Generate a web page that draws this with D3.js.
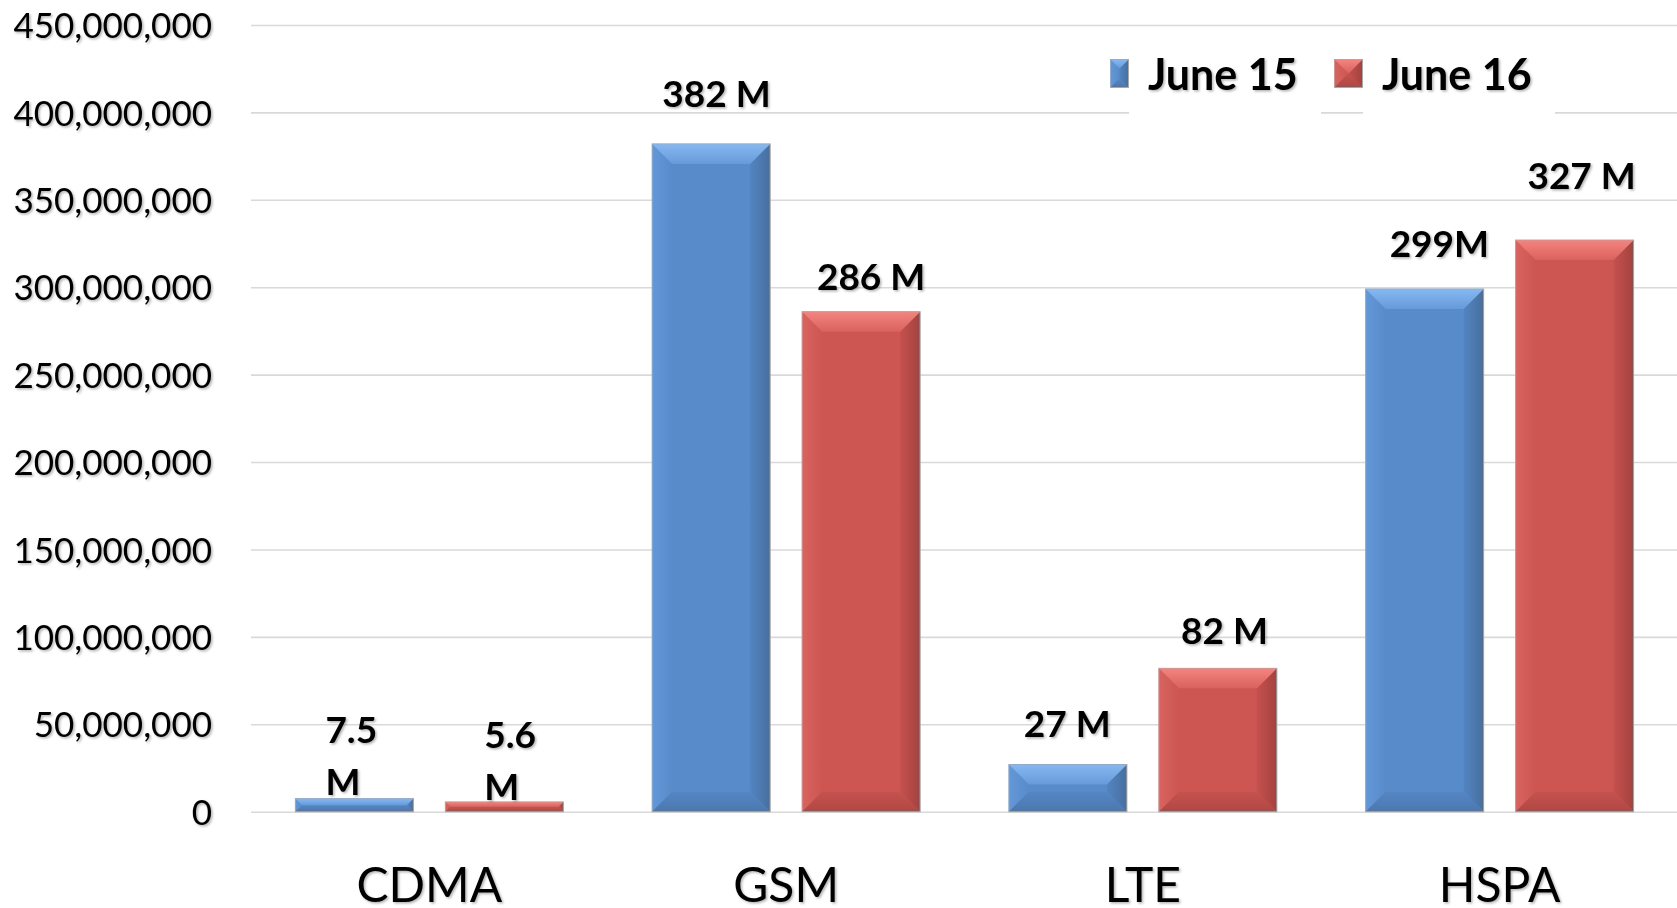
<!DOCTYPE html>
<html>
<head>
<meta charset="utf-8">
<script src="https://cdn.jsdelivr.net/npm/d3@7"></script>
<style>
  html, body { margin: 0; padding: 0; background: #fff; }
  svg { display: block; }
  text { font-family: Lato, "Open Sans", sans-serif; fill: #000; }
</style>
</head>
<body>
<div id="chart"></div>
<script>
// data
var categories = ["CDMA", "GSM", "LTE", "HSPA"];
var series = ["June 15", "June 16"];
var june15 = [7.5e6, 382e6, 27e6, 299e6];
var june16 = [5.6e6, 286e6, 82e6, 327e6];
var labels15 = ["7.5\nM", "382 M", "27 M", "299M"];
var labels16 = ["5.6\nM", "286 M", "82 M", "327 M"];
var yTicks = [0, 50e6, 100e6, 150e6, 200e6, 250e6, 300e6, 350e6, 400e6, 450e6];

// the labels were placed by hand in the original, so nudge them (dx, dy from bar centre / top)
var nudge15 = [[-29, -3.6], [5.3, -36.6], [-0.7, -27.8], [14.7, -32.3]];
var nudge16 = [[-20, -2], [10, -21.8], [6.6, -24.4], [7, -50.8]];

var W = 1677, H = 908;
var plotLeft = 251, plotRight = 1678, plotTop = 25, plotBottom = 811.7;

var svg = d3.select("#chart").append("svg")
  .attr("width", W)
  .attr("height", H);

var defs = svg.append("defs");
var shadow = defs.append("filter").attr("id", "shadow")
  .attr("x", "-10%").attr("y", "-10%").attr("width", "130%").attr("height", "140%");
shadow.append("feDropShadow")
  .attr("dx", 1.5).attr("dy", 1.5).attr("stdDeviation", 1)
  .attr("flood-color", "#000").attr("flood-opacity", 0.3);

var palette = {
  "June 15": {body: "#588bca", top: ["#86b8f2", "#679ad9"], left: ["#6398d8", "#588bca"],
              right: ["#5384c2", "#466f9f"], bottom: ["#5586c4", "#4a77b0"]},
  "June 16": {body: "#cd5652", top: ["#f4847f", "#d9625e"], left: ["#d8635f", "#cd5652"],
              right: ["#c5514d", "#a3423f"], bottom: ["#c6524e", "#b04744"]}
};
function grad(id, c, x2, y2) {
  var g = defs.append("linearGradient").attr("id", id)
    .attr("x1", 0).attr("y1", 0).attr("x2", x2).attr("y2", y2);
  g.append("stop").attr("offset", "0%").attr("stop-color", c[0]);
  g.append("stop").attr("offset", "100%").attr("stop-color", c[1]);
}
series.forEach(function(s, i) {
  var p = palette[s];
  grad("top" + i, p.top, 0, 1);
  grad("left" + i, p.left, 1, 0);
  grad("right" + i, p.right, 1, 0);
  grad("bottom" + i, p.bottom, 0, 1);
});

var y = d3.scaleLinear().domain([0, 450e6]).range([plotBottom, plotTop]);
var x0 = d3.scaleBand().domain(categories).range([plotLeft, plotRight]).paddingInner(0).paddingOuter(0);
var x1 = d3.scaleBand().domain(series).range([0, x0.bandwidth()]).paddingInner(0.213).paddingOuter(0.296);

// gridlines
var grid = svg.append("g").attr("transform", "translate(" + plotLeft + ",0)")
  .call(d3.axisLeft(y).tickValues(yTicks).tickSize(-(W - plotLeft)).tickFormat(""));
grid.select(".domain").remove();
grid.selectAll("line").attr("stroke", "#d9d9d9").attr("stroke-width", 1.6);

// y axis labels
var yAxis = svg.append("g").attr("transform", "translate(" + plotLeft + ",0)")
  .call(d3.axisLeft(y).tickValues(yTicks).tickSize(0).tickPadding(39).tickFormat(d3.format(",")));
yAxis.select(".domain").remove();
yAxis.selectAll("text")
  .attr("dy", null)
  .attr("y", 12.6)
  .style("font-size", "35px")
  .style("font-family", "Lato, sans-serif")
  .attr("fill", "#000")
  .attr("filter", "url(#shadow)");

// bars
var rows = [];
categories.forEach(function(c, i) {
  rows.push({cat: c, s: series[0], si: 0, v: june15[i], label: labels15[i], nudge: nudge15[i]});
  rows.push({cat: c, s: series[1], si: 1, v: june16[i], label: labels16[i], nudge: nudge16[i]});
});

function bevelBar(g, x, yTop, w, h, s, si, bmax) {
  var c = palette[s];
  var b = Math.min(bmax || 20, h / 2, w / 2);
  var yb = yTop + h, xr = x + w;
  var pts = function(a) { return a.map(function(p) { return p.join(","); }).join(" "); };
  g.append("rect").attr("x", x).attr("y", yTop).attr("width", w).attr("height", h).attr("fill", c.body);
  g.append("polygon").attr("points", pts([[x, yTop], [x + b, yTop + b], [x + b, yb - b], [x, yb]])).attr("fill", "url(#left" + si + ")");
  g.append("polygon").attr("points", pts([[xr, yTop], [xr - b, yTop + b], [xr - b, yb - b], [xr, yb]])).attr("fill", "url(#right" + si + ")");
  g.append("polygon").attr("points", pts([[x, yb], [xr, yb], [xr - b, yb - b], [x + b, yb - b]])).attr("fill", "url(#bottom" + si + ")");
  g.append("polygon").attr("points", pts([[x, yTop], [xr, yTop], [xr - b, yTop + b], [x + b, yTop + b]])).attr("fill", "url(#top" + si + ")");
  g.append("rect").attr("x", x).attr("y", yTop).attr("width", w).attr("height", h)
    .attr("fill", "none").attr("stroke", "#a8a8a8").attr("stroke-width", 1);
}

var barG = svg.append("g");
rows.forEach(function(d) {
  var bx = x0(d.cat) + x1(d.s);
  var by = y(d.v);
  bevelBar(barG.append("g"), bx, by, x1.bandwidth(), y(0) - by, d.s, d.si);
});

// data labels
var labG = svg.append("g");
rows.forEach(function(d) {
  var cx = x0(d.cat) + x1(d.s) + x1.bandwidth() / 2 + d.nudge[0];
  var by = y(d.v) + d.nudge[1];
  var lines = d.label.split("\n");
  var t = labG.append("text")
    .attr("text-anchor", lines.length > 1 ? "start" : "middle")
    .attr("filter", "url(#shadow)")
    .style("font-size", "37px")
    .style("font-weight", "bold");
  lines.forEach(function(l, k) {
    t.append("tspan")
      .attr("x", cx)
      .attr("y", by - (lines.length - 1 - k) * 52)
      .text(l);
  });
});

// category labels
svg.append("g").selectAll("text")
  .data(categories)
  .enter()
  .append("text")
  .attr("x", function(d) { return x0(d) + x0.bandwidth() / 2; })
  .attr("y", 902)
  .attr("text-anchor", "middle")
  .attr("filter", "url(#shadow)")
  .style("font-size", "48px")
  .text(function(d) { return d; });

// legend (white boxes behind the entries hide the gridline)
var legend = svg.append("g");
legend.append("rect").attr("x", 1129).attr("y", 45).attr("width", 192).attr("height", 73).attr("fill", "#fff");
legend.append("rect").attr("x", 1363).attr("y", 45).attr("width", 192).attr("height", 73).attr("fill", "#fff");
var swatches = [{x: 1110.5, w: 18}, {x: 1334.5, w: 28}];
var legendTextX = [1148, 1382];
series.forEach(function(s, i) {
  bevelBar(legend.append("g"), swatches[i].x, 59.5, swatches[i].w, 28, s, i, 14);
  legend.append("text")
    .attr("x", legendTextX[i])
    .attr("y", 90)
    .attr("filter", "url(#shadow)")
    .style("font-size", "43px")
    .style("font-weight", "bold")
    .text(s);
});
</script>
</body>
</html>
